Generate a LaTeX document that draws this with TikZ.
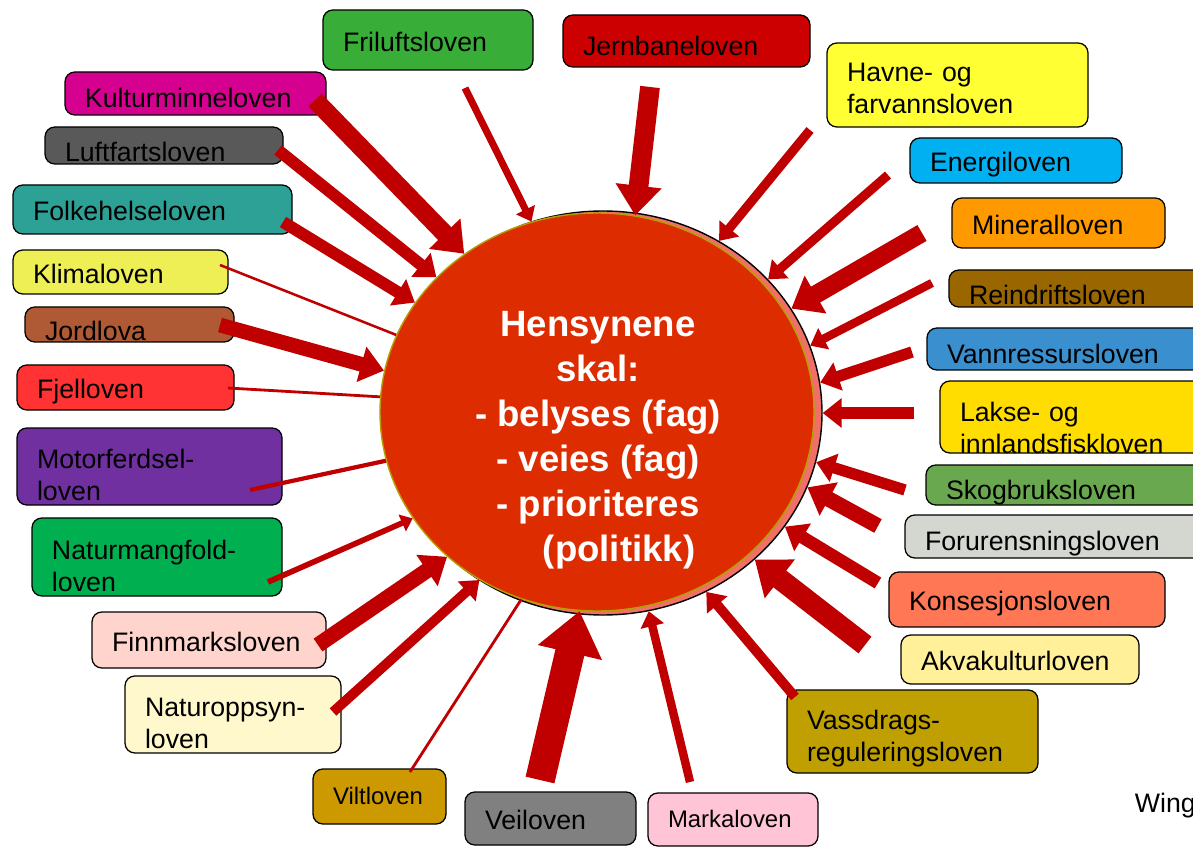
\documentclass[tikz,border=0pt]{standalone}
\usepackage{fontspec}
\setmainfont{Liberation Sans}
\usetikzlibrary{arrows.meta,shapes.geometric}

\newlength{\enh}
\setlength{\enh}{0.025cm}

\definecolor{pilrod}{HTML}{C00000}
\definecolor{sirkelrod}{HTML}{DD2C00}
\definecolor{sirkelkant}{HTML}{B4A000}
\definecolor{skyggerosa}{HTML}{F07068}
\definecolor{frilufts}{HTML}{38AD38}
\definecolor{jernbane}{HTML}{CC0000}
\definecolor{havne}{HTML}{FFFF33}
\definecolor{energi}{HTML}{00B0F0}
\definecolor{mineral}{HTML}{FF9900}
\definecolor{reindrift}{HTML}{996600}
\definecolor{vannressurs}{HTML}{3A8FCE}
\definecolor{lakse}{HTML}{FFDD00}
\definecolor{skogbruk}{HTML}{6AA84F}
\definecolor{forurensning}{HTML}{D3D7D0}
\definecolor{konsesjon}{HTML}{FF7755}
\definecolor{akvakultur}{HTML}{FFF099}
\definecolor{vassdrag}{HTML}{BFA000}
\definecolor{marka}{HTML}{FFC4D6}
\definecolor{veiloven}{HTML}{808080}
\definecolor{vilt}{HTML}{CC9900}
\definecolor{naturoppsyn}{HTML}{FFF8CC}
\definecolor{finnmark}{HTML}{FFD4CC}
\definecolor{naturmangfold}{HTML}{00B050}
\definecolor{motorferdsel}{HTML}{7030A0}
\definecolor{fjell}{HTML}{FF3333}
\definecolor{jordlova}{HTML}{B05A35}
\definecolor{klima}{HTML}{EEEE55}
\definecolor{folkehelse}{HTML}{2EA197}
\definecolor{luftfart}{HTML}{595959}
\definecolor{kulturminne}{HTML}{D5008F}

\tikzset{
	lov/.style={draw=black, line width=0.9pt, rounded corners=7pt, align=left,
		inner xsep=20\enh, inner ysep=0pt, text=black, font=\fontsize{19}{23}\selectfont,
		text height=16pt, text depth=0pt},
	tolov/.style={lov, text height=15pt, text depth=12pt},
	smalov/.style={lov, font=\fontsize{17}{20}\selectfont, text height=12pt},
	senket/.style={text height=20pt},
	senketmer/.style={text height=23pt},
	sirkel/.style={ellipse, fill=sirkelrod, draw=sirkelkant, line width=1pt, inner sep=0pt,
		minimum width=434\enh, minimum height=398\enh},
	skygge/.style={ellipse, fill=skyggerosa, draw=black, line width=1pt, inner sep=0pt,
		minimum width=438\enh, minimum height=404\enh},
	hubtekst/.style={align=center, text=white, font=\fontsize{26}{32}\selectfont\bfseries},
	pil/.style={draw=pilrod, -{Triangle[length=3pt 1.3, width=5pt 1.9]}},
	strek/.style={draw=pilrod},
}

\begin{document}
\begin{tikzpicture}[x=1\enh, y=-1\enh]
	\useasboundingbox (0,0) rectangle (1193,847);
	\fill[white] (0,0) rectangle (1193,847);
	%-- lovene
	\node[lov, fill=frilufts, text width=170\enh, minimum height=60\enh] (frilufts) at (428,40) {Friluftsloven};
	\node[lov, senket, fill=jernbane, text width=207\enh, minimum height=52\enh] (jernbane) at (686.5,41) {Jernbaneloven};
	\node[tolov, text depth=20.5pt, fill=havne, text width=221\enh, minimum height=84\enh] (havne) at (957.5,85) {Havne- og\\farvannsloven};
	\node[lov, fill=energi, text width=172\enh, minimum height=45\enh] (energi) at (1016,160.5) {Energiloven};
	\node[lov, fill=mineral, text width=173\enh, minimum height=50\enh] (mineral) at (1058.5,223) {Mineralloven};
	\node[lov, senketmer, fill=reindrift, text width=226\enh, minimum height=37\enh] (reindrift) at (1082,288.5) {Reindriftsloven};
	\node[lov, senket, fill=vannressurs, text width=248\enh, minimum height=42\enh] (vannressurs) at (1071,349) {Vannressursloven};
	\node[tolov, text height=17pt, text depth=11pt, fill=lakse, text width=235\enh, minimum height=72\enh] (lakse) at (1077.5,417) {Lakse- og\\innlandsfiskloven};
	\node[lov, senket, fill=skogbruk, text width=249\enh, minimum height=40\enh] (skogbruk) at (1070.5,485) {Skogbruksloven};
	\node[lov, senket, fill=forurensning, text width=270\enh, minimum height=43\enh] (forurensning) at (1060,536.5) {Forurensningsloven};
	\node[lov, fill=konsesjon, text width=236\enh, minimum height=55\enh] (konsesjon) at (1027,599.5) {Konsesjonsloven};
	\node[lov, fill=akvakultur, text width=198\enh, minimum height=49\enh] (akvakultur) at (1020,659.5) {Akvakulturloven};
	\node[tolov, text depth=17.7pt, fill=vassdrag, text width=211\enh, minimum height=83\enh] (vassdrag) at (912.5,731.5) {Vassdrags-\\reguleringsloven};
	\node[smalov, fill=marka, text width=130\enh, minimum height=53\enh] (marka) at (733,819.5) {Markaloven};
	\node[lov, fill=veiloven, text width=131\enh, minimum height=53\enh] (veiloven) at (550.5,818.5) {Veiloven};
	\node[smalov, fill=vilt, text width=93\enh, minimum height=55\enh] (vilt) at (379.5,796.5) {Viltloven};
	\node[tolov, fill=naturoppsyn, text width=176\enh, minimum height=77\enh] (naturoppsyn) at (233,714.5) {Naturoppsyn-\\loven};
	\node[lov, fill=finnmark, text width=194\enh, minimum height=56\enh] (finnmark) at (209,640) {Finnmarksloven};
	\node[tolov, fill=naturmangfold, text width=210\enh, minimum height=78\enh] (naturmangfold) at (157,557) {Naturmangfold-\\loven};
	\node[tolov, fill=motorferdsel, text width=225\enh, minimum height=77\enh] (motorferdsel) at (149.5,466.5) {Motorferdsel-\\loven};
	\node[lov, fill=fjell, text width=177\enh, minimum height=45\enh] (fjell) at (125.5,387.5) {Fjelloven};
	\node[lov, senketmer, fill=jordlova, text width=169\enh, minimum height=35\enh] (jordlova) at (129.5,324.5) {Jordlova};
	\node[lov, fill=klima, text width=175\enh, minimum height=44\enh] (klima) at (120.5,272) {Klimaloven};
	\node[lov, fill=folkehelse, text width=239\enh, minimum height=49\enh] (folkehelse) at (152.5,209.5) {Folkehelseloven};
	\node[lov, senketmer, fill=luftfart, text width=198\enh, minimum height=37\enh] (luftfart) at (164,145.5) {Luftfartsloven};
	\node[lov, senket, fill=kulturminne, text width=221\enh, minimum height=43\enh] (kulturminne) at (195.5,93.5) {Kulturminneloven};
	\node[anchor=base west, font=\fontsize{19}{22}\selectfont] (kilde) at (1130,812) {Winge};
	%-- sirkelen
	\node[skygge] (skygge) at (603,413) {};
	\node[sirkel] (hub) at (597,412) {};
	\node[hubtekst] (tekst) at (598,440) {Hensynene\\skal:\\- belyses (fag)\\- veies (fag)\\- prioriteres\\\hspace*{42\enh}(politikk)};
	%-- startpunkt for pilene
	\coordinate (p-frilufts) at (465,88);
	\coordinate (p-jernbane) at (650,87);
	\coordinate (p-havne) at (810,130);
	\coordinate (p-energi) at (888,175);
	\coordinate (p-mineral) at (922,233);
	\coordinate (p-reindrift) at (932,283);
	\coordinate (p-vannressurs) at (912,352);
	\coordinate (p-lakse) at (914,413);
	\coordinate (p-skogbruk) at (905,490);
	\coordinate (p-forurensning) at (878,526);
	\coordinate (p-konsesjon) at (878,583);
	\coordinate (p-akvakultur) at (865,645);
	\coordinate (p-vassdrag) at (795,697);
	\coordinate (p-marka) at (690,782);
	\coordinate (p-veiloven) at (540,780);
	\coordinate (p-vilt) at (410,772);
	\coordinate (p-naturoppsyn) at (333,712);
	\coordinate (p-finnmark) at (318,645);
	\coordinate (p-naturmangfold) at (268,582);
	\coordinate (p-motorferdsel) at (250,490);
	\coordinate (p-fjell) at (228,388);
	\coordinate (p-jordlova) at (220,325);
	\coordinate (p-klima) at (220,265);
	\coordinate (p-folkehelse) at (283,222);
	\coordinate (p-luftfart) at (278,150);
	\coordinate (p-kulturminne) at (315,100);
	%-- pilene
	\draw[pil, line width=5pt] (p-frilufts) -- (hub.109);
	\draw[pil, line width=14pt] (p-jernbane) -- (hub.79);
	\draw[pil, line width=6.5pt] (p-havne) -- (skygge.56);
	\draw[pil, line width=6.5pt] (p-energi) -- (skygge.39);
	\draw[pil, line width=13pt] (p-mineral) -- (skygge.29);
	\draw[pil, line width=6pt] (p-reindrift) -- (skygge.18.5);
	\draw[pil, line width=8pt] (p-vannressurs) -- (skygge.8);
	\draw[pil, line width=8pt] (p-lakse) -- (skygge.-0.5);
	\draw[pil, line width=8pt] (p-skogbruk) -- (skygge.-13);
	\draw[pil, line width=11pt] (p-forurensning) -- (skygge.-20);
	\draw[pil, line width=9pt] (p-konsesjon) -- (skygge.-32);
	\draw[pil, line width=15pt] (p-akvakultur) -- (skygge.-44.6);
	\draw[pil, line width=7pt] (p-vassdrag) -- (skygge.-60);
	\draw[pil, line width=6pt] (p-marka) -- (skygge.-77);
	\draw[pil, line width=21pt] (p-veiloven) -- (hub.-95);
	\draw[strek, line width=2pt] (p-vilt) -- (hub.-112);
	\draw[pil, line width=7pt] (p-naturoppsyn) -- (hub.-125);
	\draw[pil, line width=11pt] (p-finnmark) -- (hub.-136);
	\draw[pil, line width=4pt] (p-naturmangfold) -- (hub.-150);
	\draw[strek, line width=3pt] (p-motorferdsel) -- (hub.-167.5);
	\draw[strek, line width=2pt] (p-fjell) -- (hub.176);
	\draw[pil, line width=10.5pt] (p-jordlova) -- (hub.169.5);
	\draw[strek, line width=1.8pt] (p-klima) -- (hub.159);
	\draw[pil, line width=8.5pt] (p-folkehelse) -- (hub.149);
	\draw[pil, line width=8.5pt] (p-luftfart) -- (hub.140);
	\draw[pil, line width=13pt] (p-kulturminne) -- (hub.130);
\end{tikzpicture}
\end{document}
